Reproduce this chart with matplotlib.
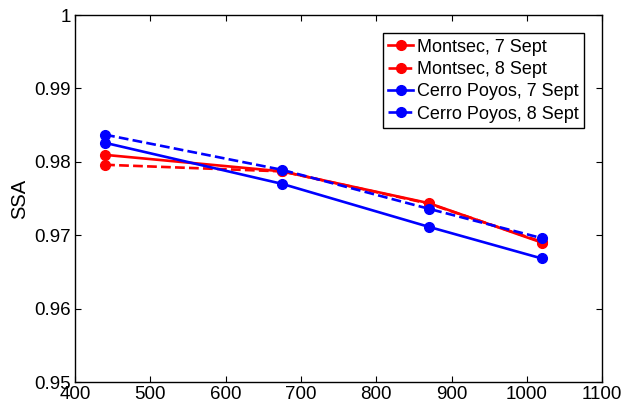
import matplotlib
matplotlib.use("Agg")
import matplotlib.pyplot as plt

plt.rcParams["font.family"] = ["Liberation Sans", "DejaVu Sans"]

# Wavelengths (nm) and single scattering albedo per site/day
wavelength = [440, 675, 870, 1020]
montsec_7 = [0.98095, 0.9787, 0.97437, 0.9690]
montsec_8 = [0.9796, 0.9787, 0.9743, 0.9691]
cerro_7 = [0.98259, 0.9770, 0.97114, 0.96683]
cerro_8 = [0.9837, 0.97891, 0.9736, 0.9696]

fig = plt.figure(figsize=(6.22, 4.07), dpi=100)
ax = fig.add_axes([0.1206, 0.0614, 0.8474, 0.9016])

ax.plot(wavelength, montsec_7, "-", color="red", lw=1.9, marker="o", ms=7, label="Montsec, 7 Sept")
ax.plot(wavelength, montsec_8, "--", color="red", lw=1.9, marker="o", ms=7, label="Montsec, 8 Sept")
ax.plot(wavelength, cerro_7, "-", color="blue", lw=1.9, marker="o", ms=7, label="Cerro Poyos, 7 Sept")
ax.plot(wavelength, cerro_8, "--", color="blue", lw=1.9, marker="o", ms=7, label="Cerro Poyos, 8 Sept")

ax.set_xlim(400, 1100)
ax.set_ylim(0.95, 1.0)
ax.set_xticks(range(400, 1101, 100))
ax.set_yticks([0.95, 0.96, 0.97, 0.98, 0.99, 1.0])
ax.set_yticklabels(["0.95", "0.96", "0.97", "0.98", "0.99", "1"])
ax.tick_params(direction="in", top=True, right=True, labelsize=13.5, length=4, width=0.8, pad=3)
for s in ax.spines.values():
    s.set_linewidth(1.0)
ax.set_ylabel("SSA", fontsize=14.5, labelpad=4)

leg = ax.legend(loc="upper right", fontsize=13, fancybox=False, framealpha=1, edgecolor="black",
                handlelength=1.4, handletextpad=0.2, labelspacing=0.3, borderpad=0.3,
                borderaxespad=1.0)
leg.get_frame().set_linewidth(1.0)

fig.savefig("out.png", dpi=100)
